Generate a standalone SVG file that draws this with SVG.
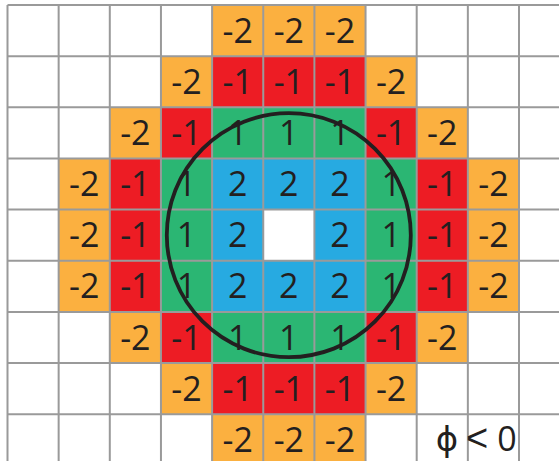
<svg xmlns="http://www.w3.org/2000/svg" width="559" height="461" viewBox="0 0 559 461">
<style>
.o{fill:#FBB040}.r{fill:#ED1C24}.g{fill:#2BB673}.b{fill:#27AAE1}
text{font-family:"Open Sans","DejaVu Sans",sans-serif;font-size:34px;fill:#231F20;text-anchor:middle}
.grid{stroke:#9A9A9A;stroke-width:2;fill:none}
</style>
<rect x="0" y="0" width="559" height="461" fill="#fff"/>
<g id="cells">
<g id="c0-4"><rect class="o" x="212.1" y="5" width="51.15" height="51.15"/><text x="237.68" y="42.6">-2</text></g>
<g id="c0-5"><rect class="o" x="263.25" y="5" width="51.15" height="51.15"/><text x="288.83" y="42.6">-2</text></g>
<g id="c0-6"><rect class="o" x="314.4" y="5" width="51.15" height="51.15"/><text x="339.98" y="42.6">-2</text></g>

<g id="c1-3"><rect class="o" x="160.95" y="56.15" width="51.15" height="51.15"/><text x="186.53" y="93.7">-2</text></g>
<g id="c1-4"><rect class="r" x="212.1" y="56.15" width="51.15" height="51.15"/><text x="237.68" y="93.7">-1</text></g>
<g id="c1-5"><rect class="r" x="263.25" y="56.15" width="51.15" height="51.15"/><text x="288.83" y="93.7">-1</text></g>
<g id="c1-6"><rect class="r" x="314.4" y="56.15" width="51.15" height="51.15"/><text x="339.98" y="93.7">-1</text></g>
<g id="c1-7"><rect class="o" x="365.55" y="56.15" width="51.15" height="51.15"/><text x="391.13" y="93.7">-2</text></g>

<g id="c2-2"><rect class="o" x="109.8" y="107.3" width="51.15" height="51.15"/><text x="135.38" y="144.9">-2</text></g>
<g id="c2-3"><rect class="r" x="160.95" y="107.3" width="51.15" height="51.15"/><text x="186.53" y="144.9">-1</text></g>
<g id="c2-4"><rect class="g" x="212.1" y="107.3" width="51.15" height="51.15"/><text x="237.68" y="144.9">1</text></g>
<g id="c2-5"><rect class="g" x="263.25" y="107.3" width="51.15" height="51.15"/><text x="288.83" y="144.9">1</text></g>
<g id="c2-6"><rect class="g" x="314.4" y="107.3" width="51.15" height="51.15"/><text x="339.98" y="144.9">1</text></g>
<g id="c2-7"><rect class="r" x="365.55" y="107.3" width="51.15" height="51.15"/><text x="391.13" y="144.9">-1</text></g>
<g id="c2-8"><rect class="o" x="416.7" y="107.3" width="51.15" height="51.15"/><text x="442.28" y="144.9">-2</text></g>

<g id="c3-1"><rect class="o" x="58.65" y="158.45" width="51.15" height="51.15"/><text x="84.23" y="196">-2</text></g>
<g id="c3-2"><rect class="r" x="109.8" y="158.45" width="51.15" height="51.15"/><text x="135.38" y="196">-1</text></g>
<g id="c3-3"><rect class="g" x="160.95" y="158.45" width="51.15" height="51.15"/><text x="186.53" y="196">1</text></g>
<g id="c3-4"><rect class="b" x="212.1" y="158.45" width="51.15" height="51.15"/><text x="237.68" y="196">2</text></g>
<g id="c3-5"><rect class="b" x="263.25" y="158.45" width="51.15" height="51.15"/><text x="288.83" y="196">2</text></g>
<g id="c3-6"><rect class="b" x="314.4" y="158.45" width="51.15" height="51.15"/><text x="339.98" y="196">2</text></g>
<g id="c3-7"><rect class="g" x="365.55" y="158.45" width="51.15" height="51.15"/><text x="391.13" y="196">1</text></g>
<g id="c3-8"><rect class="r" x="416.7" y="158.45" width="51.15" height="51.15"/><text x="442.28" y="196">-1</text></g>
<g id="c3-9"><rect class="o" x="467.85" y="158.45" width="51.15" height="51.15"/><text x="493.43" y="196">-2</text></g>

<g id="c4-1"><rect class="o" x="58.65" y="209.6" width="51.15" height="51.15"/><text x="84.23" y="247.2">-2</text></g>
<g id="c4-2"><rect class="r" x="109.8" y="209.6" width="51.15" height="51.15"/><text x="135.38" y="247.2">-1</text></g>
<g id="c4-3"><rect class="g" x="160.95" y="209.6" width="51.15" height="51.15"/><text x="186.53" y="247.2">1</text></g>
<g id="c4-4"><rect class="b" x="212.1" y="209.6" width="51.15" height="51.15"/><text x="237.68" y="247.2">2</text></g>
<g id="c4-6"><rect class="b" x="314.4" y="209.6" width="51.15" height="51.15"/><text x="339.98" y="247.2">2</text></g>
<g id="c4-7"><rect class="g" x="365.55" y="209.6" width="51.15" height="51.15"/><text x="391.13" y="247.2">1</text></g>
<g id="c4-8"><rect class="r" x="416.7" y="209.6" width="51.15" height="51.15"/><text x="442.28" y="247.2">-1</text></g>
<g id="c4-9"><rect class="o" x="467.85" y="209.6" width="51.15" height="51.15"/><text x="493.43" y="247.2">-2</text></g>

<g id="c5-1"><rect class="o" x="58.65" y="260.75" width="51.15" height="51.15"/><text x="84.23" y="298.3">-2</text></g>
<g id="c5-2"><rect class="r" x="109.8" y="260.75" width="51.15" height="51.15"/><text x="135.38" y="298.3">-1</text></g>
<g id="c5-3"><rect class="g" x="160.95" y="260.75" width="51.15" height="51.15"/><text x="186.53" y="298.3">1</text></g>
<g id="c5-4"><rect class="b" x="212.1" y="260.75" width="51.15" height="51.15"/><text x="237.68" y="298.3">2</text></g>
<g id="c5-5"><rect class="b" x="263.25" y="260.75" width="51.15" height="51.15"/><text x="288.83" y="298.3">2</text></g>
<g id="c5-6"><rect class="b" x="314.4" y="260.75" width="51.15" height="51.15"/><text x="339.98" y="298.3">2</text></g>
<g id="c5-7"><rect class="g" x="365.55" y="260.75" width="51.15" height="51.15"/><text x="391.13" y="298.3">1</text></g>
<g id="c5-8"><rect class="r" x="416.7" y="260.75" width="51.15" height="51.15"/><text x="442.28" y="298.3">-1</text></g>
<g id="c5-9"><rect class="o" x="467.85" y="260.75" width="51.15" height="51.15"/><text x="493.43" y="298.3">-2</text></g>

<g id="c6-2"><rect class="o" x="109.8" y="311.9" width="51.15" height="51.15"/><text x="135.38" y="349.5">-2</text></g>
<g id="c6-3"><rect class="r" x="160.95" y="311.9" width="51.15" height="51.15"/><text x="186.53" y="349.5">-1</text></g>
<g id="c6-4"><rect class="g" x="212.1" y="311.9" width="51.15" height="51.15"/><text x="237.68" y="349.5">1</text></g>
<g id="c6-5"><rect class="g" x="263.25" y="311.9" width="51.15" height="51.15"/><text x="288.83" y="349.5">1</text></g>
<g id="c6-6"><rect class="g" x="314.4" y="311.9" width="51.15" height="51.15"/><text x="339.98" y="349.5">1</text></g>
<g id="c6-7"><rect class="r" x="365.55" y="311.9" width="51.15" height="51.15"/><text x="391.13" y="349.5">-1</text></g>
<g id="c6-8"><rect class="o" x="416.7" y="311.9" width="51.15" height="51.15"/><text x="442.28" y="349.5">-2</text></g>

<g id="c7-3"><rect class="o" x="160.95" y="363.05" width="51.15" height="51.15"/><text x="186.53" y="400.6">-2</text></g>
<g id="c7-4"><rect class="r" x="212.1" y="363.05" width="51.15" height="51.15"/><text x="237.68" y="400.6">-1</text></g>
<g id="c7-5"><rect class="r" x="263.25" y="363.05" width="51.15" height="51.15"/><text x="288.83" y="400.6">-1</text></g>
<g id="c7-6"><rect class="r" x="314.4" y="363.05" width="51.15" height="51.15"/><text x="339.98" y="400.6">-1</text></g>
<g id="c7-7"><rect class="o" x="365.55" y="363.05" width="51.15" height="51.15"/><text x="391.13" y="400.6">-2</text></g>

<g id="c8-4"><rect class="o" x="212.1" y="414.2" width="51.15" height="51.15"/><text x="237.68" y="451.8">-2</text></g>
<g id="c8-5"><rect class="o" x="263.25" y="414.2" width="51.15" height="51.15"/><text x="288.83" y="451.8">-2</text></g>
<g id="c8-6"><rect class="o" x="314.4" y="414.2" width="51.15" height="51.15"/><text x="339.98" y="451.8">-2</text></g>
</g>
<g id="grid">
<path class="grid" d="M7.5 5V470M58.65 5V470M109.8 5V470M160.95 5V470M212.1 5V470M263.25 5V470M314.4 5V470M365.55 5V470M416.7 5V470M467.85 5V470M519 5V470
M7.5 5H570M7.5 56.15H570M7.5 107.3H570M7.5 158.45H570M7.5 209.6H570M7.5 260.75H570M7.5 311.9H570M7.5 363.05H570M7.5 414.2H570"/>
</g>
<g id="circle">
<circle cx="288.8" cy="235.2" r="122" fill="none" stroke="#231F20" stroke-width="3.8"/>
</g>
<g id="label">
<text x="447" y="451">ϕ</text>
<text x="477" y="451" style="font-family:'Liberation Sans',sans-serif;font-size:38px">&lt;</text>
<text x="507" y="451">0</text>
</g>
</svg>
